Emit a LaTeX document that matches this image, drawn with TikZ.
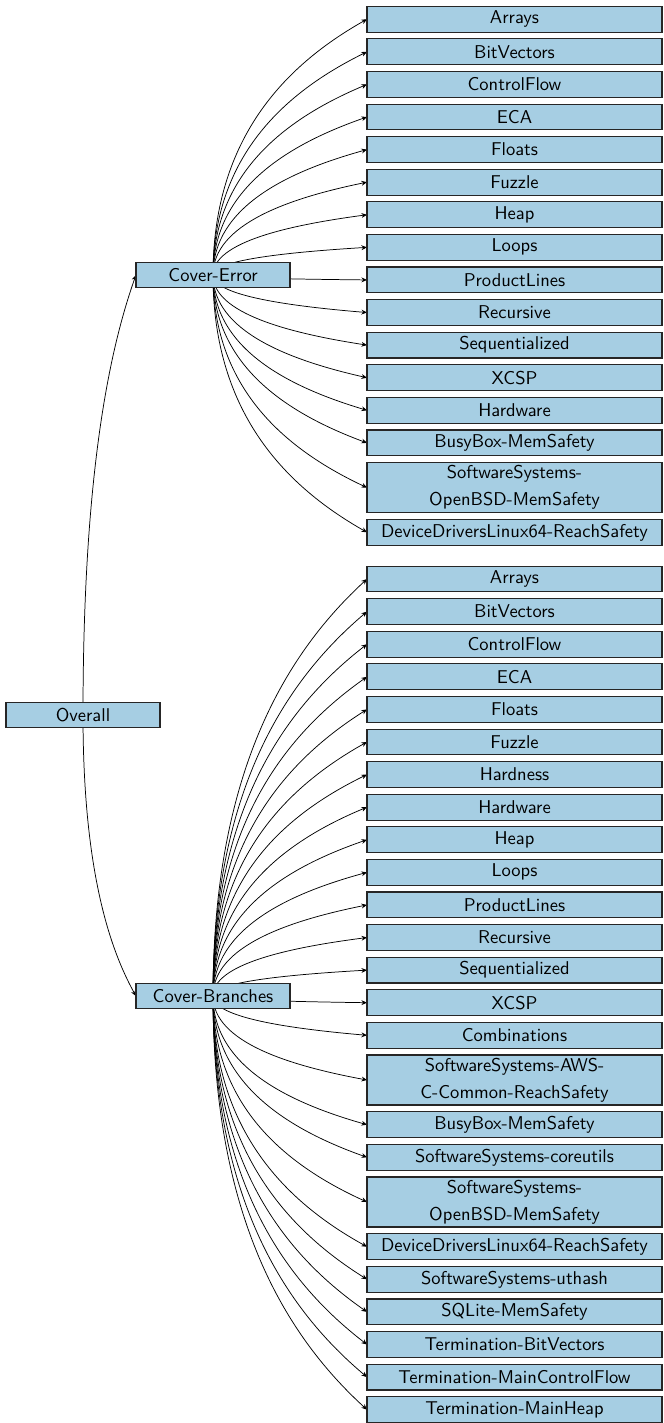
\documentclass[tikz,border=0pt]{standalone}
\usepackage{xcolor}
\usepackage{tikz}
\usetikzlibrary{arrows.meta,positioning,calc,backgrounds}
\definecolor{boxblue}{HTML}{A6CEE3}

\begin{document}
\begin{tikzpicture}[
  x=0.54pt, y=-0.54pt,
  node distance=3.67pt,
  box/.style={draw=black!85, line width=0.6pt, fill=boxblue, align=center,
              font=\sffamily\fontsize{10pt}{14.5pt}\selectfont,
              inner ysep=1.65pt, outer sep=0pt, minimum height=13.93pt},
  leaf/.style={box, minimum width=159.3pt},
  cat/.style={box, minimum width=83.2pt},
  arr/.style={-{Stealth[length=3pt,width=2.6pt]}, line width=0.4pt},
  fan/.style={to path={let \p1=(\tikztostart), \p2=(\tikztotarget) in
    .. controls (\x1,{\y1+0.55*(\y2-\y1)}) and ({0.5*(\x1+\x2)},{\y2-0.17*(\y2-\y1)}) .. (\tikztotarget)}},
]
\useasboundingbox (0,0) rectangle (663,1423);

\node[cat] (ov) at (83,715) {Overall};
\node[cat] (ce) at (213,275) {Cover-Error};
\node[cat] (cb) at (213,996) {Cover-Branches};

% categories below Cover-Error
\node[leaf] (e1) at (514.5,19.2) {Arrays};
\foreach \t [count=\i from 2] in {BitVectors,ControlFlow,ECA,Floats,Fuzzle,Heap,Loops,
    ProductLines,Recursive,Sequentialized,XCSP,Hardware,BusyBox-MemSafety,
    {SoftwareSystems-\\OpenBSD-MemSafety},DeviceDriversLinux64-ReachSafety}{
  \pgfmathtruncatemacro\j{\i-1}
  \node[leaf, below=of e\j] (e\i) {\t};
}

% categories below Cover-Branches
\node[leaf] (b1) at (514.5,579) {Arrays};
\foreach \t [count=\i from 2] in {BitVectors,ControlFlow,ECA,Floats,Fuzzle,Hardness,Hardware,
    Heap,Loops,ProductLines,Recursive,Sequentialized,XCSP,Combinations,
    {SoftwareSystems-AWS-\\C-Common-ReachSafety},BusyBox-MemSafety,SoftwareSystems-coreutils,
    {SoftwareSystems-\\OpenBSD-MemSafety},DeviceDriversLinux64-ReachSafety,
    SoftwareSystems-uthash,SQLite-MemSafety,Termination-BitVectors,
    Termination-MainControlFlow,Termination-MainHeap}{
  \pgfmathtruncatemacro\j{\i-1}
  \node[leaf, below=of b\j] (b\i) {\t};
}

\begin{scope}[on background layer]
  \draw[arr] (ov.center) to[fan] (ce.west);
  \draw[arr] (ov.center) to[fan] (cb.west);
  \foreach \i in {1,...,16}
    \draw[arr] (ce.center) to[fan] (e\i.west);
  \foreach \i in {1,...,25}
    \draw[arr] (cb.center) to[fan] (b\i.west);
\end{scope}
\end{tikzpicture}
\end{document}
